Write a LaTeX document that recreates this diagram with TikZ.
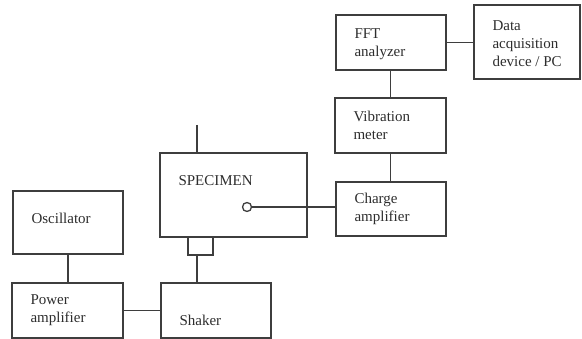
\documentclass[tikz,border=0pt]{standalone}
\usepackage{fontspec}
\setmainfont{Liberation Serif}
\usepackage{tikz}
\usetikzlibrary{positioning, calc}
\definecolor{linegray}{RGB}{62, 62, 62}
\definecolor{textgray}{RGB}{45, 45, 45}

\tikzset{
    unitbox/.style={draw=linegray, line width=1.3pt, minimum width=110pt, minimum height=55pt, inner sep=0pt},
    unittext/.style={anchor=west, align=left, inner sep=0pt, xshift=19pt, text=textgray,
                     font=\fontsize{15}{18}\selectfont},
    wire/.style={draw=linegray, line width=1.3pt},
}

\begin{document}
\begin{tikzpicture}[x=1pt, y=-1pt]
    \useasboundingbox (0, 0) rectangle (582, 339);

    % Drive chain: oscillator, power amplifier, shaker
    \node[unitbox, minimum height=63pt, label={[unittext, name=osctxt, yshift=4pt]west:Oscillator}] (osc) at (68, 222.5) {};
    \node[unitbox, minimum width=111pt, label={[unittext, name=pamptxt]west:Power\\amplifier}] (pamp) at (67.5, 310.5) {};
    \node[unitbox, label={[unittext, name=shktxt, yshift=-9.5pt]west:Shaker}] (shaker) at (216, 310.5) {};

    % Specimen with fixture and pick-up
    \node[unitbox, minimum width=147pt, minimum height=84pt] (spec) at (233.5, 195) {};
    \node[anchor=base west, inner sep=0pt, text=textgray, font=\fontsize{15}{18}\selectfont]
        (spectxt) at ($(spec.north west)+(19, 33)$) {SPECIMEN};
    \node[unitbox, minimum width=25pt, minimum height=18pt] (fixture) at (200.5, 246) {};
    \node[draw=linegray, line width=1.3pt, fill=white, circle, minimum size=9pt, inner sep=0pt] (pickup) at (247, 207) {};
    \coordinate (rodtop) at (197, 125);

    % Measuring chain
    \node[unitbox, minimum height=54pt, label={[unittext, name=camptxt]west:Charge\\amplifier}] (camp) at (391, 209) {};
    \node[unitbox, minimum width=111pt, label={[unittext, name=vibtxt]west:Vibration\\meter}] (vib) at (390.5, 125.5) {};
    \node[unitbox, label={[unittext, name=ffttxt, yshift=-1.5pt]west:FFT\\analyzer}] (fft) at (391, 42.5) {};
    \node[unitbox, minimum width=106pt, minimum height=74pt, label={[unittext, name=daqtxt, yshift=-2pt]west:Data\\acquisition\\device / PC}] (daq) at (527, 42) {};

    % Connections
    \draw[wire] (osc) -- (osc |- pamp.north);
    \draw[wire] (pamp.east) -- (pamp.east -| shaker.west);
    \draw[wire] (rodtop |- shaker.north) -- (rodtop |- fixture.south);
    \draw[wire] (rodtop) -- (rodtop |- spec.north);
    \draw[wire] (pickup.east) -- (pickup.east -| camp.west);
    \draw[wire] (camp.north -| vib.south) -- (vib.south);
    \draw[wire] (vib.north) -- (vib.north |- fft.south);
    \draw[wire] (fft.east) -- (fft.east -| daq.west);
\end{tikzpicture}
\end{document}
